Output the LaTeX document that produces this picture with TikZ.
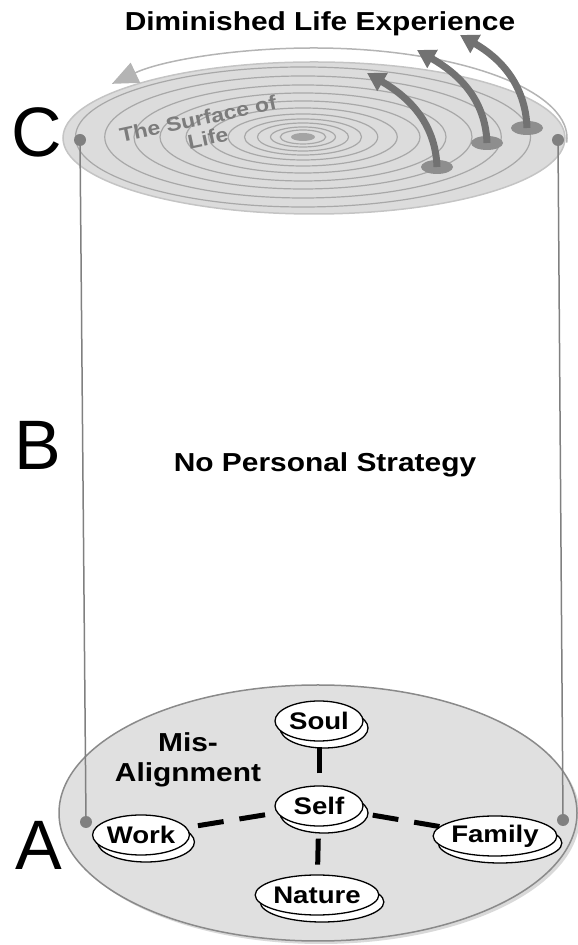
\documentclass[tikz,border=0pt]{standalone}
\usepackage{fontspec}
\usetikzlibrary{shapes.geometric,shadows,arrows.meta}

\newfontfamily\diagfont[FakeStretch=1.15]{Liberation Sans}
\newfontfamily\letterfont{Liberation Sans}

\definecolor{topfill}{HTML}{DCDCDC}
\definecolor{topedge}{HTML}{C4C4C4}
\definecolor{ringgray}{HTML}{A8A8A8}
\definecolor{arcgray}{HTML}{B4B4B4}
\definecolor{arrowgray}{HTML}{727272}
\definecolor{basegray}{HTML}{8E8E8E}
\definecolor{postgray}{HTML}{808080}
\definecolor{floorfill}{HTML}{E0E0E0}
\definecolor{flooredge}{HTML}{8A8A8A}
\definecolor{surfacegray}{HTML}{7C7C7C}

\tikzset{
	headline/.style={font=\diagfont\bfseries\fontsize{26}{30}\selectfont, inner sep=0pt},
	letter/.style={font=\letterfont\fontsize{70}{70}\selectfont, inner sep=0pt},
	surfacetext/.style={font=\diagfont\bfseries\fontsize{20}{24}\selectfont, text=surfacegray, rotate=12, inner sep=0pt},
	lifenode/.style={ellipse, draw=black, line width=1.3pt, fill=white,
		minimum width=88pt, minimum height=40pt, inner sep=0pt,
		font=\diagfont\bfseries\fontsize{24}{26}\selectfont,
		copy shadow={shadow xshift=5pt, shadow yshift=-7pt, fill=white, draw=black, line width=1.3pt}},
	link/.style={line width=5pt, dash pattern=on 26pt off 16pt, dash phase=30pt},
	postdot/.style={circle, fill=postgray, inner sep=0pt, minimum size=12pt},
	post/.style={postgray, line width=1.5pt},
	risebase/.style={ellipse, fill=basegray, inner sep=0pt, minimum width=32pt, minimum height=14pt},
	rise/.style={arrowgray, line width=7pt, -{Triangle[length=18pt, width=20pt]}}
}

\begin{document}
\begin{tikzpicture}[x=1pt, y=1pt]
	\useasboundingbox (0,0) rectangle (578,945);
	
	\node[headline, anchor=base] (title) at (320,914) {Diminished Life Experience};
	
	% Surface of life and its rings
	\filldraw[fill=topfill, draw=topedge, line width=1.5pt] (314,807) ellipse [x radius=251, y radius=76];
	\foreach \r in {70,61,52,44,36,29,23,18,14,10,7}
		\draw[ringgray, line width=1.2pt] (303,808) ellipse [x radius=3.25*\r, y radius=\r];
	\fill[basegray!80] (303,808) ellipse [x radius=12, y radius=4];
	\draw[arcgray, line width=1.5pt, -{Triangle[length=26pt, width=22pt]}]
		(314,807) ++(-3:253 and 90) arc[start angle=-3, end angle=143, x radius=253, y radius=90];
	\node[surfacetext] (surface) at (198,826) {The Surface of};
	\node[surfacetext] (life) at (208,807) {Life};
	
	% rising arrows
	\node[risebase] (base1) at (437,778) {};
	\node[risebase] (base2) at (487,802) {};
	\node[risebase] (base3) at (527,817) {};
	\coordinate (tip1) at (367,872);
	\coordinate (tip2) at (417,895);
	\coordinate (tip3) at (460,910);
	\draw[rise] (base1.center) to[out=92, in=-30] (tip1);
	\draw[rise] (base2.center) to[out=92, in=-30] (tip2);
	\draw[rise] (base3.center) to[out=92, in=-30] (tip3);
	
	% Floor (A)
	\fill[black!15] (321,129) ellipse [x radius=259, y radius=128];
	\filldraw[fill=floorfill, draw=flooredge, line width=1.5pt] (318,132) ellipse [x radius=259, y radius=128];
	
	% posts
	\node[postdot] (topleft) at (80,805) {};
	\node[postdot] (topright) at (558,805) {};
	\node[postdot] (floorleft) at (86,123) {};
	\node[postdot] (floorright) at (563,125) {};
	\draw[post] (topleft.center) -- (floorleft.center);
	\draw[post] (topright.center) -- (floorright.center);
	
	% life areas
	\node[lifenode] (soul) at (319,224) {Soul};
	\node[lifenode] (self) at (319,139) {Self};
	\node[lifenode] (nature) at (317,50) {Nature};
	\node[lifenode] (work) at (141,110) {Work};
	\node[lifenode] (family) at (495,109) {Family};
	\draw[link] (self) -- (soul);
	\draw[link] (self) -- (nature);
	\draw[link] (self) -- (work);
	\draw[link] (self) -- (family);
	
	\node[headline, align=center] (mis) at (188,185) {Mis-\\Alignment};
	\node[headline, anchor=base] (strategy) at (325,473) {No Personal Strategy};
	
	\node[letter, anchor=base] (C) at (37,788) {C};
	\node[letter, anchor=base] (B) at (38,475) {B};
	\node[letter, anchor=base] (A) at (39,75) {A};
\end{tikzpicture}
\end{document}
